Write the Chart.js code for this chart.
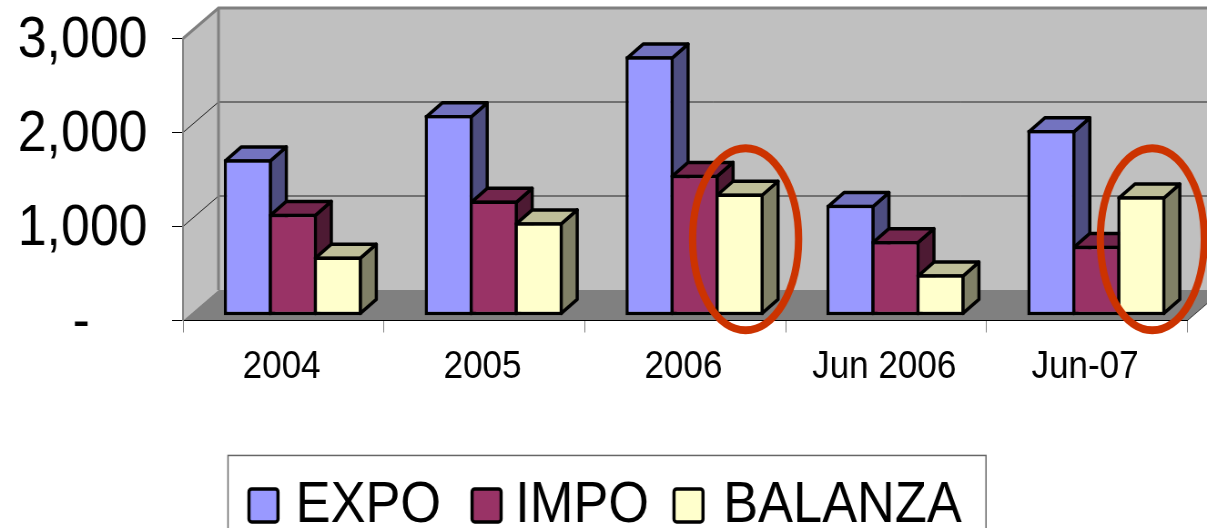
<!DOCTYPE html>
<html><head><meta charset="utf-8">
<style>html,body{margin:0;padding:0;background:#fff;overflow:hidden;width:1207px;height:528px}
#wrap{width:1207px;height:528px;overflow:hidden;position:relative}
canvas{position:absolute;left:0;top:0;transform-origin:0 0}</style>
<script src="https://cdn.jsdelivr.net/npm/chart.js@4/dist/chart.umd.min.js"></script>
</head><body><div id="wrap"><canvas id="c" width="1326" height="528"></canvas></div>
<script>
const categories = ['2004','2005','2006','Jun 2006','Jun-07'];
const expo = [1665,2135,2760,1180,1975];
const impo = [1085,1225,1500,795,745];
const balanza = [630,995,1300,440,1270];
const yTickLabels = ['-    ','1,000','2,000','3,000'];
const circledCategories = ['2006','Jun-07'];

const LAYOUT_W = 1326, SX = 1207/LAYOUT_W;
const canvas = document.getElementById('c');
canvas.style.transform = 'scaleX(' + SX + ')';
const px = v => v/SX;               // page px -> layout px (horizontal)
const WALL_DX = px(35.5), WALL_DY = 30.5;
const BAR_DX = px(9.4), BAR_DY = -4.8;
const DEPTH_DX = px(16), DEPTH_DY = 14;
const LEGEND_SHIFT = 11.7;
const LEGEND_BOX_NUDGE = [2,5.5,-0.5];
const faces = {
  EXPO:{front:'#9999FF',top:'#7373BF',side:'#4D4D80'},
  IMPO:{front:'#993366',top:'#73264D',side:'#4D1A33'},
  BALANZA:{front:'#FFFFCC',top:'#BFBF99',side:'#808066'}
};
function poly(ctx,pts,fill,stroke,w){
  ctx.beginPath();pts.forEach((p,i)=>i?ctx.lineTo(p[0],p[1]):ctx.moveTo(p[0],p[1]));ctx.closePath();
  if(fill){ctx.fillStyle=fill;ctx.fill();}
  if(stroke){ctx.strokeStyle=stroke;ctx.lineWidth=w;ctx.lineJoin='round';ctx.stroke();}
}
const depth3d = {
  id:'depth3d',
  afterLayout(chart){
    const lg=chart.legend;
    lg.left+=LEGEND_SHIFT;lg.right+=LEGEND_SHIFT;
  },
  beforeDraw(chart){
    const {ctx,chartArea:a,scales:{y}}=chart;
    const L=a.left,R=a.right,T=a.top,B=a.bottom,dx=WALL_DX,dy=WALL_DY;
    ctx.save();
    poly(ctx,[[L,T],[L+dx,T-dy],[L+dx,B-dy],[L,B]],'#C0C0C0');
    poly(ctx,[[L+dx,T-dy],[R+dx,T-dy],[R+dx,B-dy],[L+dx,B-dy]],'#C0C0C0');
    poly(ctx,[[L,B],[L+dx,B-dy],[R+dx,B-dy],[R,B]],'#808080');
    [1000,2000].forEach(v=>{
      const p=y.getPixelForValue(v);
      ctx.strokeStyle='#222';ctx.lineWidth=1;
      ctx.beginPath();ctx.moveTo(L,p);ctx.lineTo(L+dx,p-dy);ctx.lineTo(R+dx,p-dy);ctx.stroke();
    });
    ctx.strokeStyle='#808080';ctx.lineWidth=3;ctx.lineJoin='miter';
    ctx.beginPath();ctx.moveTo(L,T);ctx.lineTo(L+dx,T-dy);ctx.lineTo(R+dx,T-dy);ctx.stroke();
    ctx.beginPath();ctx.moveTo(L+dx,T-dy);ctx.lineTo(L+dx,B-dy);ctx.stroke();
    ctx.strokeStyle='#333';ctx.lineWidth=1;
    ctx.beginPath();ctx.moveTo(R,B);ctx.lineTo(R+dx,B-dy);ctx.stroke();
    ctx.restore();
  },
  beforeDatasetsDraw(chart){
    const ctx=chart.ctx,y=chart.scales.y;
    ctx.save();ctx.translate(BAR_DX,BAR_DY);
    chart.data.datasets.forEach((ds,i)=>{
      const f=faces[ds.label],meta=chart.getDatasetMeta(i);
      meta.data.forEach(b=>{
        const l=b.x-b.width/2+1.75,r=b.x+b.width/2-1.75,t=b.y+1.75,bt=b.base-1.75;
        poly(ctx,[[r,t],[r+DEPTH_DX,t-DEPTH_DY],[r+DEPTH_DX,bt-DEPTH_DY],[r,bt]],f.side,'#000',3.5);
        poly(ctx,[[l,t],[l+DEPTH_DX,t-DEPTH_DY],[r+DEPTH_DX,t-DEPTH_DY],[r,t]],f.top,'#000',3.5);
      });
      meta.controller.draw();
    });
    ctx.restore();
    const lastMeta=chart.getDatasetMeta(2);
    const shift=[px(6),px(11)], rx=[px(53),px(52)];
    circledCategories.forEach((c,i)=>{
      const bar=lastMeta.data[categories.indexOf(c)];
      ctx.beginPath();
      ctx.ellipse(bar.x+BAR_DX+shift[i],y.getPixelForValue(865),rx[i],91,0,0,Math.PI*2);
      ctx.strokeStyle='#CC3300';ctx.lineWidth=8;ctx.stroke();
    });
    return false;
  },
  afterDraw(chart){
    const ctx=chart.ctx,lg=chart.legend,hb=lg.legendHitBoxes;
    if(!hb||!hb.length)return;
    const cy=hb[0].top+hb[0].height/2;
    ctx.save();
    ctx.strokeStyle='#666';ctx.lineWidth=1.5;
    const fl=px(228);
    ctx.strokeRect(fl,cy-51,px(986)-fl,200);
    chart.data.datasets.forEach((ds,i)=>{
      const w=px(29),h=33,l=hb[i].left+px(LEGEND_BOX_NUDGE[i]),t=cy-1-h/2;
      ctx.beginPath();ctx.roundRect(l,t,w,h,3);
      ctx.fillStyle=ds.backgroundColor;ctx.fill();
      ctx.strokeStyle='#000';ctx.lineWidth=3.5;ctx.stroke();
    });
    ctx.restore();
  }
};
const mkSet=(label,data)=>({label,data,clip:false,
  backgroundColor:faces[label].front,borderColor:'#000',borderWidth:3.5,borderSkipped:false,
  inflateAmount:0,categoryPercentage:.672,barPercentage:1.07});
new Chart(canvas,{
  type:'bar',
  data:{labels:categories,datasets:[mkSet('EXPO',expo),mkSet('IMPO',impo),mkSet('BALANZA',balanza)]},
  plugins:[depth3d],
  options:{
    responsive:false,animation:false,devicePixelRatio:1,events:[],
    layout:{padding:{top:38.5,left:0,right:21.6,bottom:-17.2}},
    scales:{
      x:{
        afterFit(s){s.height=129.2;s.paddingLeft=0;s.paddingRight=0;},
        grid:{drawOnChartArea:false,drawTicks:true,tickLength:12,color:'#808080',lineWidth:1},
        border:{color:'#000',width:1},
        ticks:{color:'#000',padding:12,labelOffset:-2,autoSkip:false,maxRotation:0,font:{family:'"Liberation Sans"',size:38.5}}
      },
      y:{
        min:0,max:3000,
        afterFit(s){s.width=px(183);s.paddingTop=0;s.paddingBottom=0;},
        grid:{drawOnChartArea:false,drawTicks:true,tickLength:12,color:'#000',lineWidth:1},
        border:{color:'#808080',width:2},
        ticks:{color:'#000',stepSize:1000,padding:27,labelOffset:3,font:{family:'"Liberation Sans"',size:57},
          callback:(v,i)=>yTickLabels[i]}
      }
    },
    plugins:{
      tooltip:{enabled:false},
      legend:{position:'bottom',labels:{
        color:'#000',font:{family:'"Liberation Sans"',size:57.5},boxWidth:px(22.5),boxHeight:1,padding:28,
        generateLabels:c=>c.data.datasets.map((d,i)=>({text:d.label,fillStyle:'rgba(0,0,0,0)',strokeStyle:'rgba(0,0,0,0)',lineWidth:0,datasetIndex:i,fontColor:'#000'}))
      }}
    }
  }
});
</script></body></html>
